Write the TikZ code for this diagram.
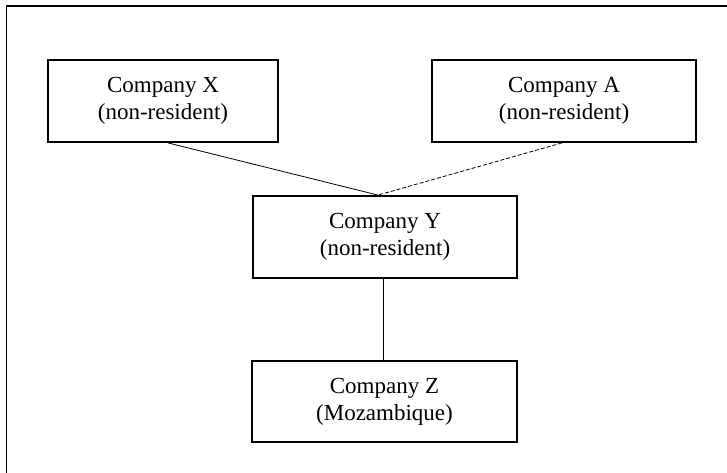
\documentclass[tikz,border=0pt]{standalone}
\usepackage{fontspec}
\setmainfont{Liberation Serif}
\usetikzlibrary{calc}
\tikzset{
  company/.style={draw, line width=1.8pt, rectangle, inner sep=0pt,
    minimum height=82pt, align=center,
    font=\fontsize{23}{27}\selectfont},
  holding/.style={line width=0.8pt},
  partial/.style={line width=0.8pt, dash pattern=on 4pt off 2pt},
  frame/.style={line width=1.8pt}
}
\begin{document}
\begin{tikzpicture}[x=1pt, y=-1pt]
  \useasboundingbox (0,0) rectangle (727,472);
  \clip (0,0) rectangle (727,472);
  % outer frame, running off the right and bottom edges
  \draw[frame] (6.5,480) -- (6.5,6) -- (740,6);

  \node[company, minimum width=230pt] (x) at (163,101) {Company X\\(non-resident)};
  \node[company, minimum width=264pt] (a) at (564,101) {Company A\\(non-resident)};
  \node[company, minimum width=264pt] (y) at (385,237) {Company Y\\(non-resident)};
  \node[company, minimum width=265pt, minimum height=81pt] (z) at (384.5,401.5) {Company Z\\(Mozambique)};

  \coordinate (join) at ($(y.north)+(-7,0)$);
  \draw[holding] ($(x.south)+(5,0)$) -- (join);
  \draw[partial] ($(a.south)+(-2,0)$) -- (join);
  \draw[holding] ($(y.south)+(-2,0)$) -- ($(z.north)+(-1.5,0)$);
\end{tikzpicture}
\end{document}
